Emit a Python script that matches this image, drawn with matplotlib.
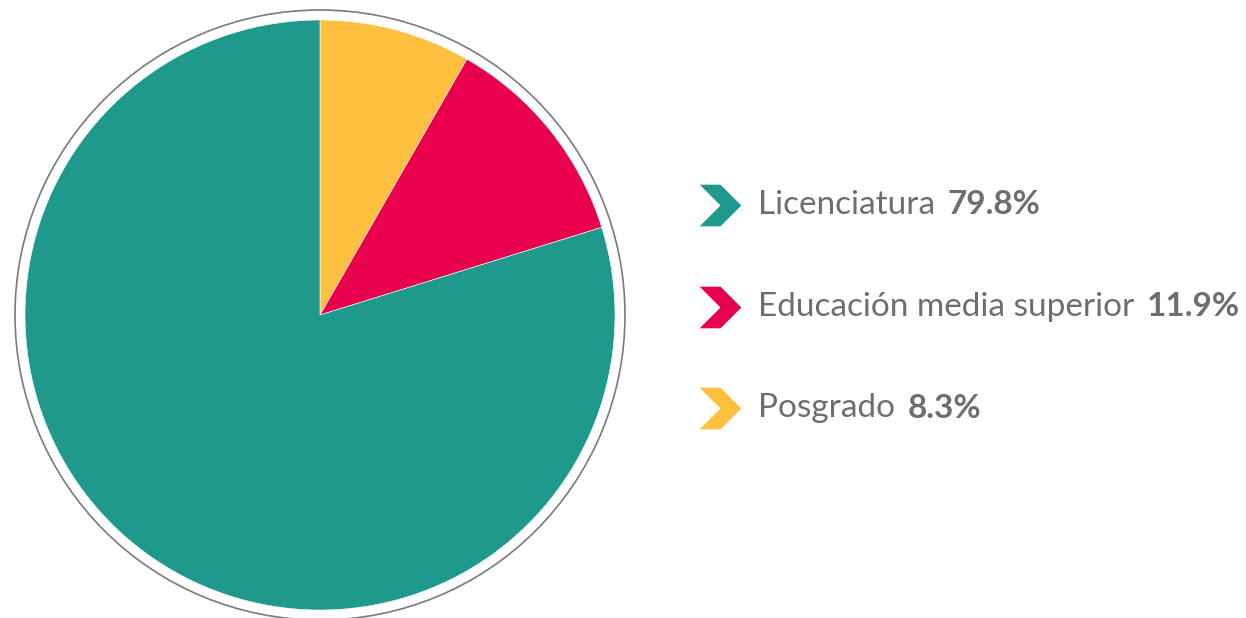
import matplotlib.pyplot as plt
from matplotlib.patches import Circle
from matplotlib.path import Path

labels = ['Licenciatura', 'Educación media superior', 'Posgrado']
values = [79.8, 11.9, 8.3]
colors = ['#1f998b', '#e8004c', '#ffbf3f']
pct_labels = ['79.8%', '11.9%', '8.3%']

plt.rcParams['font.family'] = ['Lato', 'DejaVu Sans']
txt_color = '#6d6e71'

fig = plt.figure(figsize=(12.46, 6.18), dpi=100)
ax = fig.add_axes([0, 0, 1, 1])

# pie, clockwise from 12 o'clock: Posgrado, Educación, Licenciatura
# (y axis is inverted, so counterclock=True looks clockwise)
order = [2, 1, 0]
ax.pie([values[i] for i in order], colors=[colors[i] for i in order],
       startangle=-90, counterclock=True, center=(320, 315), radius=295,
       wedgeprops=dict(edgecolor='white', linewidth=0.4), frame=True)
ax.set_xlim(0, 1246)
ax.set_ylim(618, 0)
ax.set_aspect('equal')
ax.axis('off')
ax.add_patch(Circle((320, 315), 305, fill=False, edgecolor='#7a7a7a', linewidth=1.2))

# chevron marker
chev = Path([(-1, 1), (0, 1), (1, 0), (0, -1), (-1, -1), (0, 0), (-1, 1)],
            [Path.MOVETO] + [Path.LINETO] * 5 + [Path.CLOSEPOLY])

ys = [205, 307, 408]
for lab, pct, c, y in zip(labels, pct_labels, colors, ys):
    ax.plot(720, y, marker=chev, markersize=30, color=c, markeredgewidth=0)
    t = ax.text(758, y, lab, fontsize=24, color=txt_color, va='center', ha='left')
    ax.annotate(pct, xy=(1, 0.5), xycoords=t, xytext=(9, 0), textcoords='offset points',
                fontsize=24, fontweight='bold', color=txt_color, va='center', ha='left')

fig.savefig('out.png', dpi=100)
